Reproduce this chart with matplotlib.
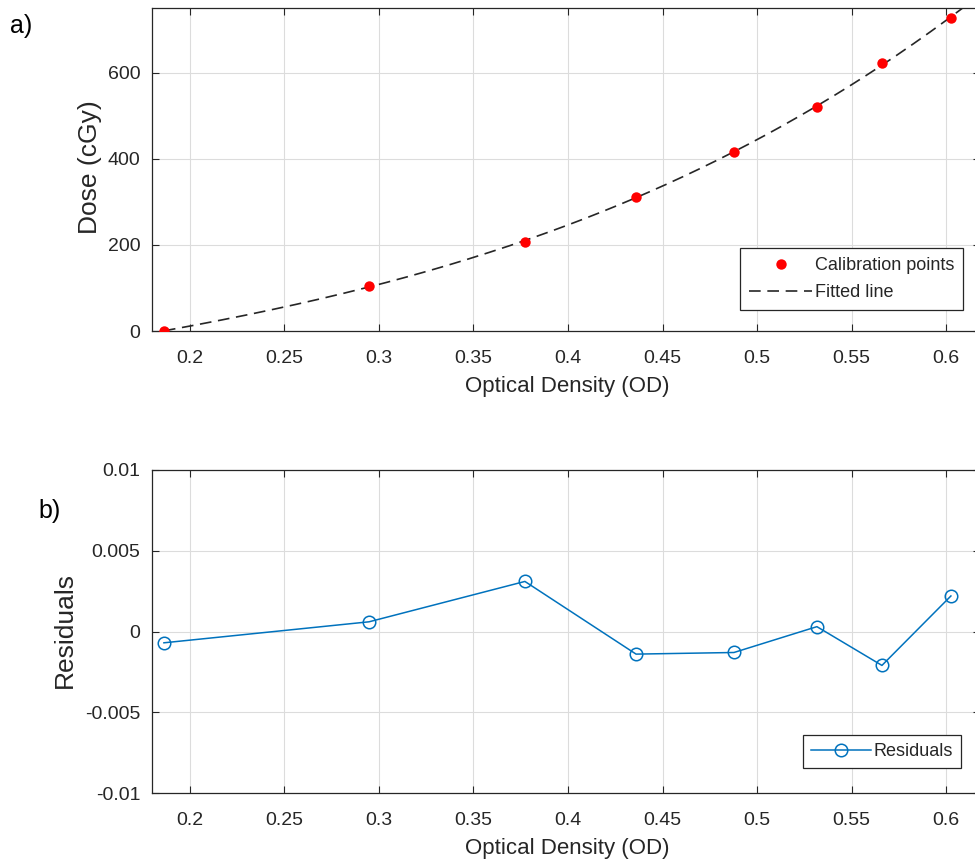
import numpy as np
import matplotlib
matplotlib.use("Agg")
import matplotlib.pyplot as plt

plt.rcParams['font.family'] = ['Liberation Sans', 'DejaVu Sans']

# Data
od = [0.1862, 0.2947, 0.3772, 0.4360, 0.4878, 0.5317, 0.5661, 0.6026]
dose = [0, 104, 208, 312, 416, 520, 624, 728]
residuals = [-0.0007, 0.0006, 0.0031, -0.0014, -0.0013, 0.0003, -0.0021, 0.0022]
xticks = [0.2, 0.25, 0.3, 0.35, 0.4, 0.45, 0.5, 0.55, 0.6]
xticklabels = ['0.2', '0.25', '0.3', '0.35', '0.4', '0.45', '0.5', '0.55', '0.6']
dose_ticks = [0, 200, 400, 600]
res_ticks = [-0.01, -0.005, 0, 0.005, 0.01]
res_ticklabels = ['-0.01', '-0.005', '0', '0.005', '0.01']

# Fitted line (polynomial fit of calibration points)
coef = np.polyfit(od, dose, 3)
xfit = np.linspace(min(od), 0.62, 200)
yfit = np.polyval(coef, xfit)

W, H = 975, 866
fig = plt.figure(figsize=(W / 100, H / 100), dpi=100)

txt = '#262626'
grid_c = '#dcdcdc'
spine_c = '#262626'
blue = '#0072BD'

left_px, right_px = 152, 980
AW = right_px - left_px
AH = 323
xl = (0.2 - (190 - left_px) / 1890, 0.2 + (right_px - 190) / 1890)


def style(ax):
    ax.set_xlim(*xl)
    ax.set_xticks(xticks)
    ax.set_xticklabels(xticklabels)
    ax.grid(True, color=grid_c, linewidth=0.8)
    ax.set_axisbelow(True)
    ax.tick_params(direction='in', length=5, width=0.8, colors=spine_c,
                   labelcolor=txt, labelsize=14, top=True, right=True)
    ax.tick_params(axis='x', pad=13.5)
    ax.tick_params(axis='y', pad=8.5)
    for s in ax.spines.values():
        s.set_color(spine_c)
        s.set_linewidth(0.9)
    ax.set_xlabel('Optical Density (OD)', fontsize=16, color=txt)
    ax.xaxis.set_label_coords(0.5 - (left_px + AW / 2 - 567) / AW, -45 / AH)


ax1 = fig.add_axes([left_px / W, 1 - 331 / H, AW / W, AH / H])
style(ax1)
ax1.set_ylim(0, 751)
ax1.set_yticks(dose_ticks)
ax1.plot(xfit, yfit, color='#262626', linestyle=(0, (7, 4)), linewidth=1.2,
         label='Fitted line', zorder=2)
ax1.plot(od, dose, 'o', color='#ff0000', markersize=7.5, markeredgewidth=0,
         label='Calibration points', zorder=3)
ax1.set_ylabel('Dose (cGy)', fontsize=19, color=txt)
ax1.yaxis.set_label_coords((102 - left_px) / AW, (331 - 167) / AH)
h, l = ax1.get_legend_handles_labels()
leg1 = ax1.legend([h[1], h[0]], [l[1], l[0]], loc='upper left',
                  bbox_to_anchor=((740 - left_px) / AW, (331 - 248) / AH),
                  fontsize=13, frameon=True, fancybox=False, edgecolor='#262626',
                  framealpha=1, handlelength=3.5, handletextpad=0.15, borderpad=0.5,
                  borderaxespad=0, labelspacing=0.55)
leg1.get_frame().set_linewidth(0.9)
for t in leg1.get_texts():
    t.set_color(txt)

ax2 = fig.add_axes([left_px / W, 1 - 793 / H, AW / W, AH / H])
style(ax2)
ax2.set_ylim(-0.01, 0.01)
ax2.set_yticks(res_ticks)
ax2.set_yticklabels(res_ticklabels)
ax2.plot(od, residuals, '-o', color=blue, markerfacecolor='none', markersize=9,
         linewidth=1.1, markeredgewidth=1.1, label='Residuals')
ax2.set_ylabel('Residuals', fontsize=19, color=txt)
ax2.yaxis.set_label_coords((77 - left_px) / AW, (793 - 630) / AH)
leg2 = ax2.legend(loc='upper left',
                  bbox_to_anchor=((803 - left_px) / AW, (793 - 735) / AH),
                  fontsize=13, frameon=True, fancybox=False, edgecolor='#262626',
                  framealpha=1, handlelength=3.3, handletextpad=0.15, borderpad=0.45,
                  borderaxespad=0)
leg2.get_frame().set_linewidth(0.9)
for t in leg2.get_texts():
    t.set_color(txt)

fig.text(10 / W, 1 - 26 / H, 'a)', fontsize=18, color='black', va='center', ha='left')
fig.text(38 / W, 1 - 511 / H, 'b)', fontsize=18, color='black', va='center', ha='left')

fig.savefig('out.png', dpi=100)
